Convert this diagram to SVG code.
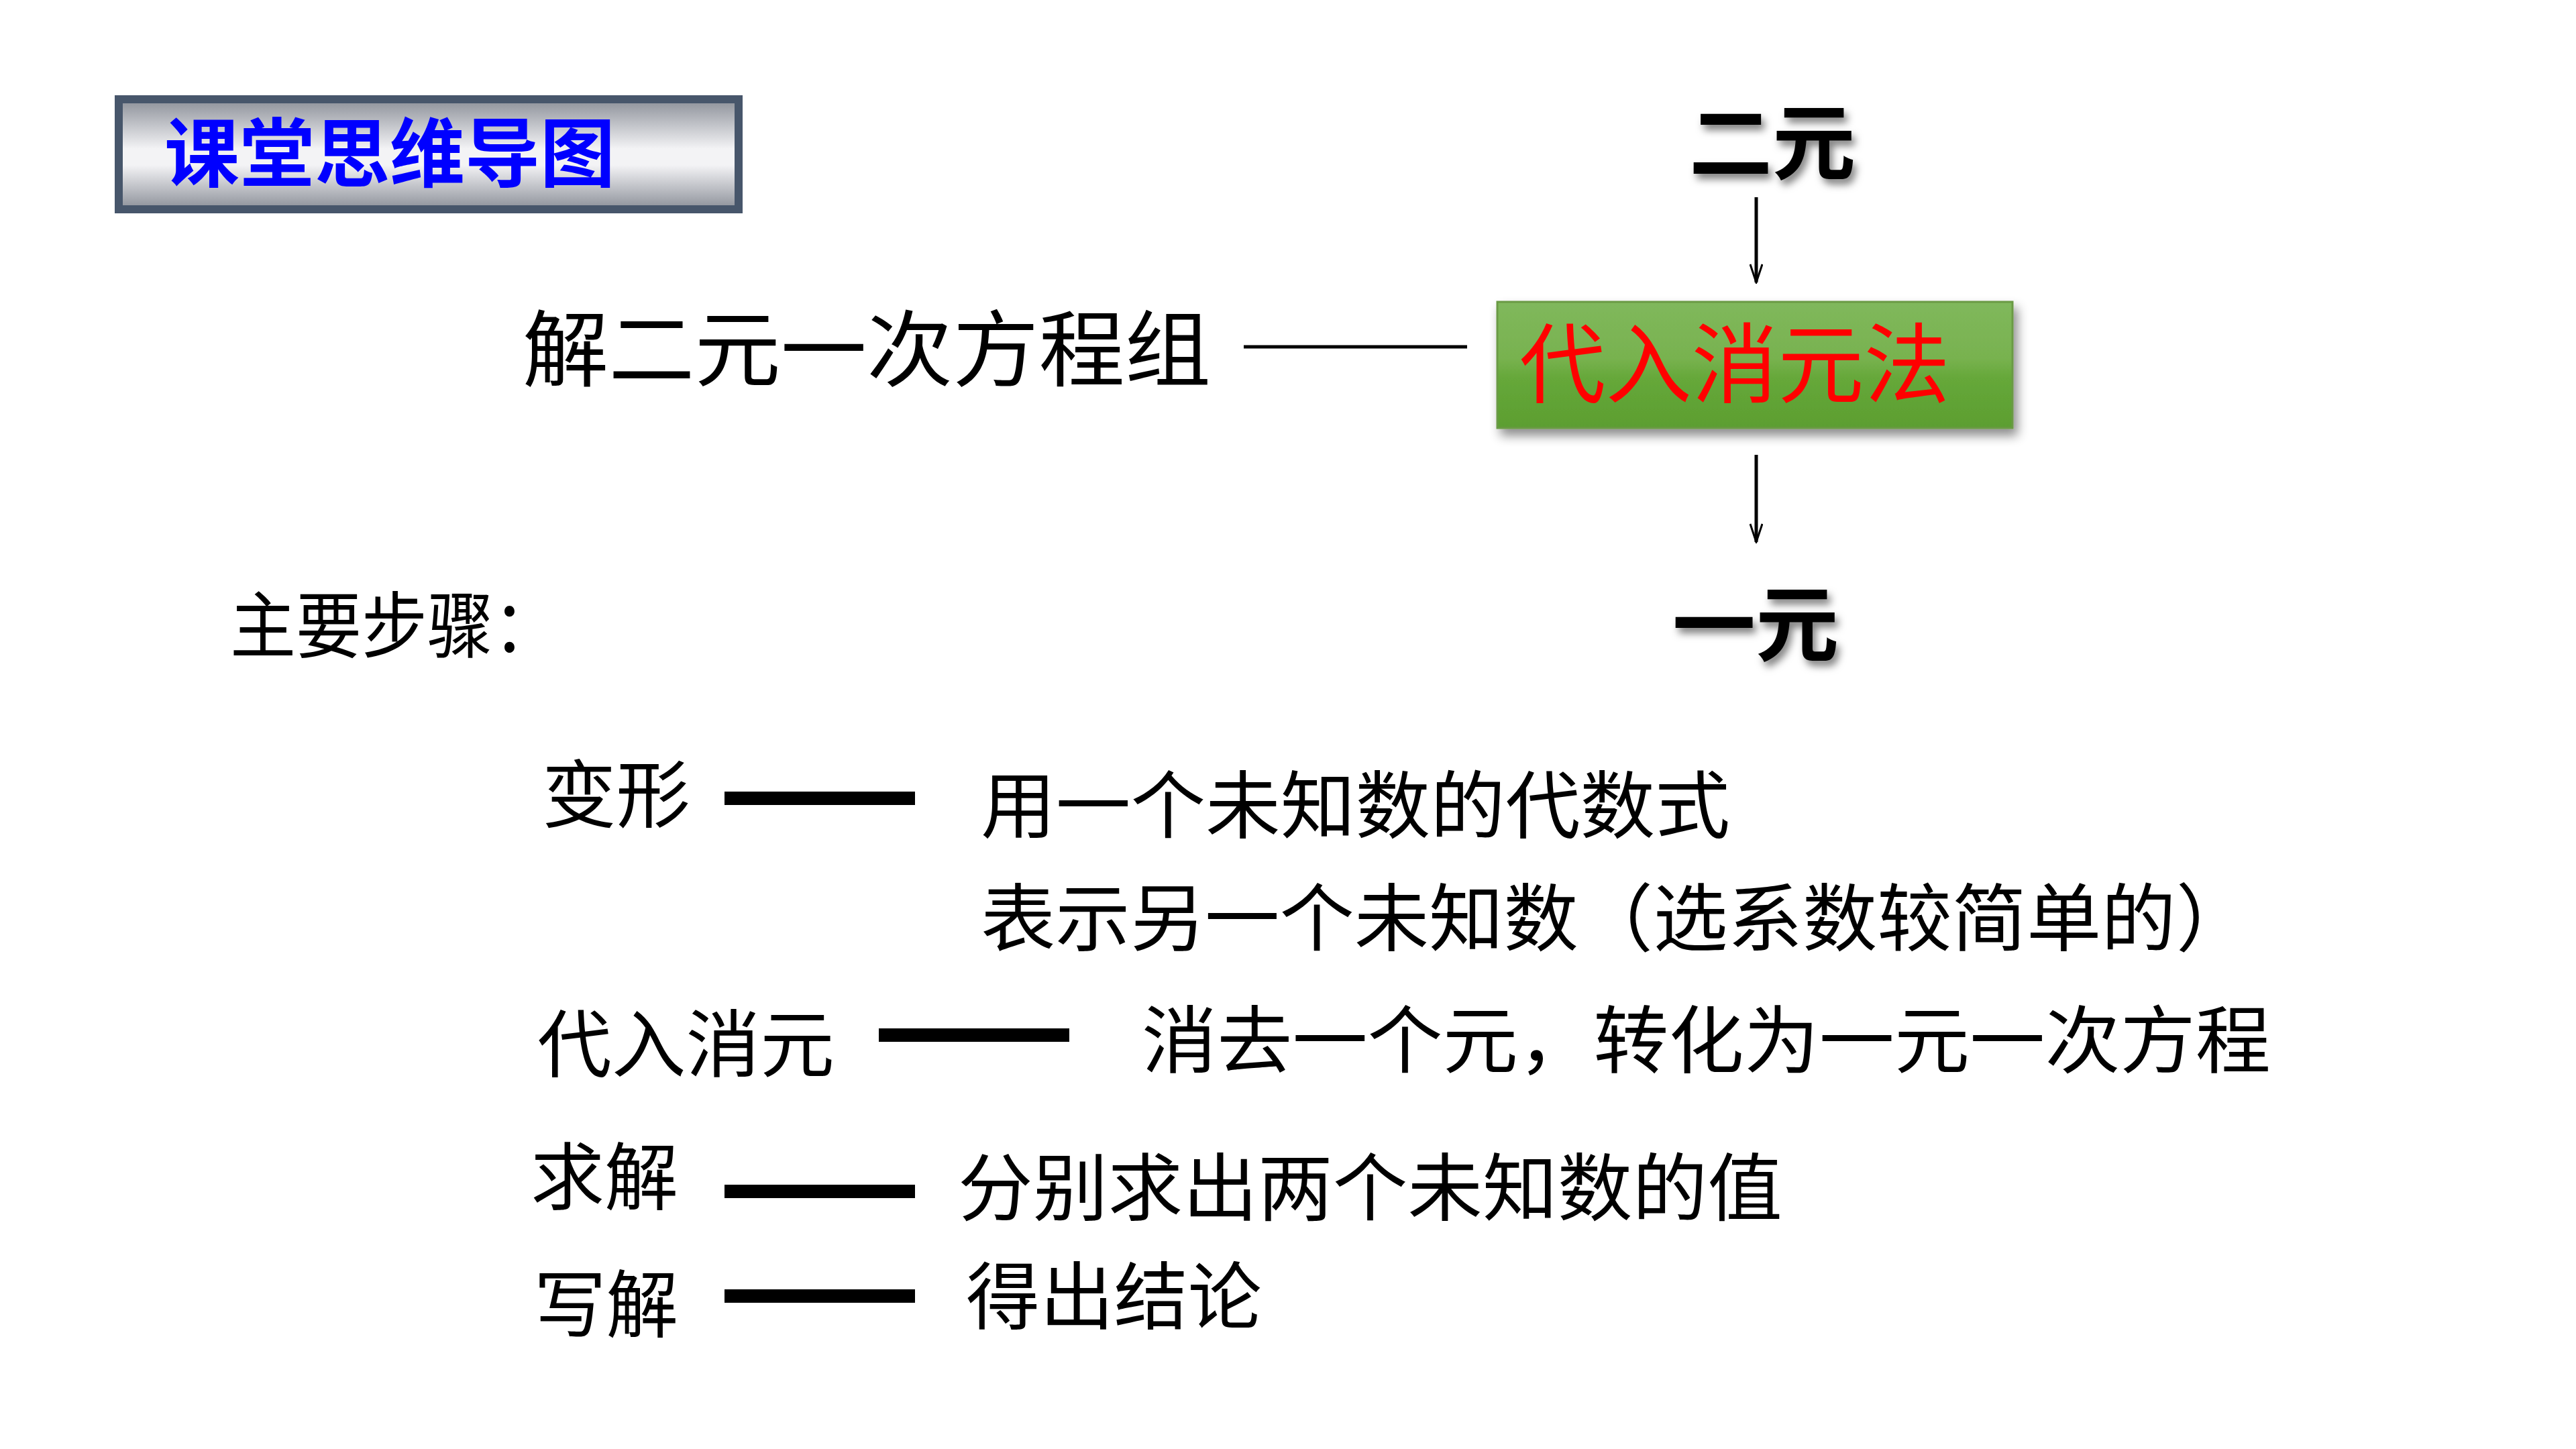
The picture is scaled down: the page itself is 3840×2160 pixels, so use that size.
<svg xmlns="http://www.w3.org/2000/svg" width="3840" height="2160" viewBox="0 0 3840 2160">
<defs>
<linearGradient id="gTitle" x1="0" y1="0" x2="0" y2="1">
<stop offset="0" stop-color="#8c9099"/>
<stop offset="0.45" stop-color="#f3f3f5"/>
<stop offset="0.6" stop-color="#f3f3f5"/>
<stop offset="1" stop-color="#8c9099"/>
</linearGradient>
<linearGradient id="gGreen" x1="0" y1="0" x2="0" y2="1">
<stop offset="0" stop-color="#80b85c"/>
<stop offset="0.45" stop-color="#78b24f"/>
<stop offset="0.6" stop-color="#66a83a"/>
<stop offset="1" stop-color="#5c9e30"/>
</linearGradient>
<filter id="fShadow" x="-20%" y="-20%" width="140%" height="150%">
<feDropShadow dx="6" dy="10" stdDeviation="8" flood-color="#000" flood-opacity="0.45"/>
</filter>
<filter id="fTextShadow" x="-20%" y="-20%" width="140%" height="150%">
<feDropShadow dx="5" dy="8" stdDeviation="6" flood-color="#000" flood-opacity="0.5"/>
</filter>
<marker id="arrow" viewBox="0 0 30 20" refX="28" refY="10" markerWidth="30" markerHeight="20" markerUnits="userSpaceOnUse" orient="auto">
<path d="M1,1 L28,10 L1,19" fill="none" stroke="#000" stroke-width="3"/>
</marker>
</defs>
<style>
text { font-family: "Noto Sans CJK SC", "Noto Sans", sans-serif; fill: #000; }
.big { font-size: 124px; }
.step { font-size: 110px; }
.bar { stroke: #000; stroke-width: 20; }
.conn { stroke: #000; stroke-width: 5; fill: none; }
</style>
<rect width="3840" height="2160" fill="#fff"/>

<g id="title">
<rect x="177" y="148" width="924" height="164" fill="url(#gTitle)" stroke="#47566b" stroke-width="12"/>
<text x="245" y="270" style="font-size:112px;font-weight:bold;fill:#0000ff" textLength="672" lengthAdjust="spacingAndGlyphs">课堂思维导图</text>
</g>

<g id="main-topic">
<text x="779" y="566" class="big" textLength="1026" lengthAdjust="spacingAndGlyphs">解二元一次方程组</text>
</g>

<g id="erYuan">
<text x="2518" y="258" style="font-size:124px;font-weight:bold" filter="url(#fTextShadow)" textLength="248" lengthAdjust="spacingAndGlyphs">二元</text>
</g>

<g id="method">
<rect x="2232" y="450" width="768" height="188" fill="url(#gGreen)" stroke="#6a9a45" stroke-width="3" filter="url(#fShadow)"/>
<text x="2265" y="590" style="font-size:130px;fill:#ff0000" textLength="642" lengthAdjust="spacingAndGlyphs">代入消元法</text>
</g>

<g id="yiYuan">
<text x="2493" y="976" style="font-size:124px;font-weight:bold" filter="url(#fTextShadow)" textLength="248" lengthAdjust="spacingAndGlyphs">一元</text>
</g>

<g id="steps-title">
<text x="343" y="972" style="font-size:108px" textLength="490" lengthAdjust="spacingAndGlyphs">主要步骤：</text>
</g>

<g id="step1">
<text x="808" y="1225" class="step" textLength="221" lengthAdjust="spacingAndGlyphs">变形</text>
<text x="1462" y="1241" class="step" textLength="1117" lengthAdjust="spacingAndGlyphs">用一个未知数的代数式</text>
<text x="1462" y="1409" class="step" textLength="1893" lengthAdjust="spacingAndGlyphs">表示另一个未知数（选系数较简单的）</text>
</g>

<g id="step2">
<text x="801" y="1597" class="step" textLength="443" lengthAdjust="spacingAndGlyphs">代入消元</text>
<text x="1702" y="1591" class="step" textLength="1683" lengthAdjust="spacingAndGlyphs">消去一个元，转化为一元一次方程</text>
</g>

<g id="step3">
<text x="791" y="1795" class="step" textLength="220" lengthAdjust="spacingAndGlyphs">求解</text>
<text x="1428" y="1811" class="step" textLength="1229" lengthAdjust="spacingAndGlyphs">分别求出两个未知数的值</text>
</g>

<g id="step4">
<text x="796" y="1985" class="step" textLength="215" lengthAdjust="spacingAndGlyphs">写解</text>
<text x="1440" y="1973" class="step" textLength="441" lengthAdjust="spacingAndGlyphs">得出结论</text>
</g>

<g id="connectors">
<line class="conn" x1="1854" y1="517" x2="2187" y2="517"/>
<line class="conn" x1="2618" y1="294" x2="2618" y2="421" marker-end="url(#arrow)"/>
<line class="conn" x1="2618" y1="678" x2="2618" y2="808" marker-end="url(#arrow)"/>
<line class="bar" x1="1080" y1="1190" x2="1364" y2="1190"/>
<line class="bar" x1="1310" y1="1543" x2="1594" y2="1543"/>
<line class="bar" x1="1080" y1="1776" x2="1364" y2="1776"/>
<line class="bar" x1="1080" y1="1932" x2="1364" y2="1932"/>
</g>
</svg>
